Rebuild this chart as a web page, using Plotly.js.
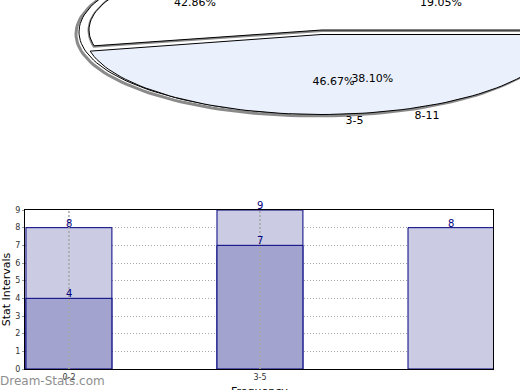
<!DOCTYPE html>
<html>
<head>
<meta charset="utf-8">
<script src="https://cdn.plot.ly/plotly-3.0.1.min.js"></script>
<style>html,body{margin:0;padding:0;background:#fff}#chart{width:520px;height:390px}</style>
</head>
<body>
<div id="chart"></div>
<script>
// ---- data ----
const categories = ['0-2', '3-5', '8-11'];
const tickCategories = ['0-2', '3-5'];
const lightValues = [8, 9, 8];
const darkValues = [4, 7, null];
const pieALabels = ['8-11', '3-5', '0-2'];
const pieAValues = [8, 9, 4];
const pieBLabels = ['3-5', '0-2'];
const pieBValues = [7, 8];

// ---- helpers for the tilted (elliptical) pie ----
function arc(cx, cy, rx, ry, a0, a1, withCenter) {
  const xs = [], ys = [];
  if (withCenter) { xs.push(cx); ys.push(cy); }
  const n = Math.max(8, Math.ceil(Math.abs(a1 - a0) / 2));
  for (let i = 0; i <= n; i++) {
    const a = (a0 + (a1 - a0) * i / n) * Math.PI / 180;
    xs.push(cx + rx * Math.cos(a));
    ys.push(cy + ry * Math.sin(a));
  }
  if (withCenter) { xs.push(cx); ys.push(cy); }
  return {x: xs, y: ys};
}
function sliceAngles(vals) {
  const tot = vals.reduce((a, b) => a + b, 0);
  let acc = 0;
  return vals.map(v => { const a0 = acc / tot * 360; acc += v; return [a0, acc / tot * 360, v / tot]; });
}
const angA = sliceAngles(pieAValues);
const angB = sliceAngles(pieBValues);

const P = {cx: 318, cy: 32, rx: 240, ry: 82};
const traces = [];
function polyTrace(pts, fill, lineColor, lineWidth) {
  return {type: 'scatter', mode: 'lines', x: pts.x, y: pts.y, xaxis: 'x2', yaxis: 'y2',
    fill: fill ? 'toself' : 'none', fillcolor: fill || 'rgba(0,0,0,0)',
    line: {color: lineColor, width: lineWidth}, hoverinfo: 'skip', showlegend: false};
}
// shadow + outer rim
traces.push(polyTrace(arc(P.cx - 2, P.cy + 2, P.rx, P.ry, 0, 360, false), null, '#8a8a8a', 3));
traces.push(polyTrace(arc(P.cx + 1, P.cy, P.rx, P.ry, 0, 360, false), '#ffffff', '#000000', 1));
// first slice of pie B (light blue)
traces.push(polyTrace(arc(P.cx + 3, P.cy + 2.5, P.rx - 4, P.ry - 2, angB[0][0], angB[0][1], true), '#eaf0fc', '#000000', 1));
// second slice of pie B (exploded, white)
traces.push(polyTrace(arc(P.cx + 4, P.cy - 1.5, P.rx - 7, P.ry - 6, angB[1][0], angB[1][1], true), null, '#8a8a8a', 3));
traces.push(polyTrace(arc(P.cx + 4, P.cy - 2, P.rx - 7, P.ry - 6, angB[1][0], angB[1][1], true), '#ffffff', '#000000', 1));

// percent labels & outside labels
const pctX = [], pctY = [], pctT = [], labX = [], labY = [], labT = [];
function addLabels(ang, labels) {
  ang.forEach((s, i) => {
    const m = (s[0] + s[1]) / 2 * Math.PI / 180;
    pctX.push(P.cx + 0.62 * P.rx * Math.cos(m));
    pctY.push(P.cy + 0.62 * P.ry * Math.sin(m));
    pctT.push((s[2] * 100).toFixed(2) + '%');
    labX.push(P.cx + 1.1 * P.rx * Math.cos(m));
    labY.push(P.cy + 1.1 * P.ry * Math.sin(m));
    labT.push(labels[i]);
  });
}
addLabels(angB, pieBLabels);
addLabels(angA, pieALabels);
traces.push({type: 'scatter', mode: 'text', x: pctX, y: pctY, text: pctT, xaxis: 'x2', yaxis: 'y2',
  textposition: 'middle center', textfont: {family: 'DejaVu Sans', size: 11, color: '#000'},
  hoverinfo: 'skip', showlegend: false, cliponaxis: true});
traces.push({type: 'scatter', mode: 'text', x: labX, y: labY, text: labT, xaxis: 'x2', yaxis: 'y2',
  textposition: 'middle right', textfont: {family: 'DejaVu Sans', size: 11, color: '#000'},
  hoverinfo: 'skip', showlegend: false, cliponaxis: true});

// ---- bar chart ----
traces.push({type: 'bar', x: categories, y: lightValues, width: 0.45,
  marker: {color: '#cbcbe3', line: {color: '#000080', width: 1}},
  showlegend: false, hoverinfo: 'skip'});
traces.push({type: 'bar', x: categories, y: darkValues, width: 0.45,
  marker: {color: '#a3a3cf', line: {color: '#000080', width: 1}},
  showlegend: false, hoverinfo: 'skip'});
// vertical dotted grid at the labelled categories (drawn over the bars)
const vgX = [], vgY = [];
tickCategories.forEach(c => { vgX.push(c, c, null); vgY.push(0, 9, null); });
traces.push({type: 'scatter', mode: 'lines', x: vgX, y: vgY, xaxis: 'x', yaxis: 'y',
  line: {color: '#a8a8a8', width: 1.6, dash: '2px,2px'}, hoverinfo: 'skip', showlegend: false, cliponaxis: false});

// bar value labels
const barAnnotations = [];
[lightValues, darkValues].forEach(vals => vals.forEach((v, i) => {
  if (v == null) return;
  barAnnotations.push({x: categories[i], y: v, xref: 'x', yref: 'y', text: String(v),
    showarrow: false, xanchor: 'center', yanchor: 'bottom', yshift: -3,
    font: {family: 'DejaVu Sans', size: 10, color: '#000080'}});
}));

const layout = {
  width: 520, height: 390,
  margin: {l: 0, r: 0, t: 0, b: 0},
  paper_bgcolor: '#fff', plot_bgcolor: 'rgba(0,0,0,0)',
  barmode: 'overlay', bargap: 0,
  font: {family: 'DejaVu Sans', color: '#000'},
  xaxis: {domain: [25 / 520, 493 / 520], anchor: 'y', type: 'category', range: [-0.23, 2.22],
    tickmode: 'array', tickvals: tickCategories, ticktext: tickCategories,
    showline: true, mirror: true, linecolor: '#000', linewidth: 1,
    showgrid: false, layer: 'above traces',
    ticks: '', tickfont: {size: 8, color: '#333'}},
  yaxis: {domain: [21 / 390, 180 / 390], anchor: 'x', range: [0, 9], dtick: 1,
    showline: true, mirror: true, linecolor: '#000', linewidth: 1,
    showgrid: true, gridcolor: '#a8a8a8', griddash: '1px,2px', layer: 'above traces', zeroline: false,
    ticks: 'outside', ticklen: 2, tickcolor: '#999', tickfont: {size: 8, color: '#333'},
    title: {text: 'Stat Intervals', font: {size: 11, color: '#000'}, standoff: 4}},
  xaxis2: {domain: [0, 1], anchor: 'y2', range: [0, 520], visible: false, fixedrange: true},
  yaxis2: {domain: [0, 1], anchor: 'x2', range: [390, 0], visible: false, fixedrange: true},
  annotations: barAnnotations.concat([
    {text: 'Frequency', xref: 'paper', yref: 'paper', x: 259 / 520, y: 1 - 383 / 390,
      xanchor: 'center', yanchor: 'top', showarrow: false,
      font: {family: 'DejaVu Sans', size: 11, color: '#000'}},
    {text: 'Dream-Stats.com', xref: 'paper', yref: 'paper', x: 0, y: 1 - 381 / 390,
      xanchor: 'left', yanchor: 'middle', showarrow: false, xshift: -2,
      font: {family: 'DejaVu Sans', size: 12, color: '#8e8e8e'}}])
};
Plotly.newPlot('chart', traces, layout, {displayModeBar: false, staticPlot: true});
</script>
</body>
</html>
